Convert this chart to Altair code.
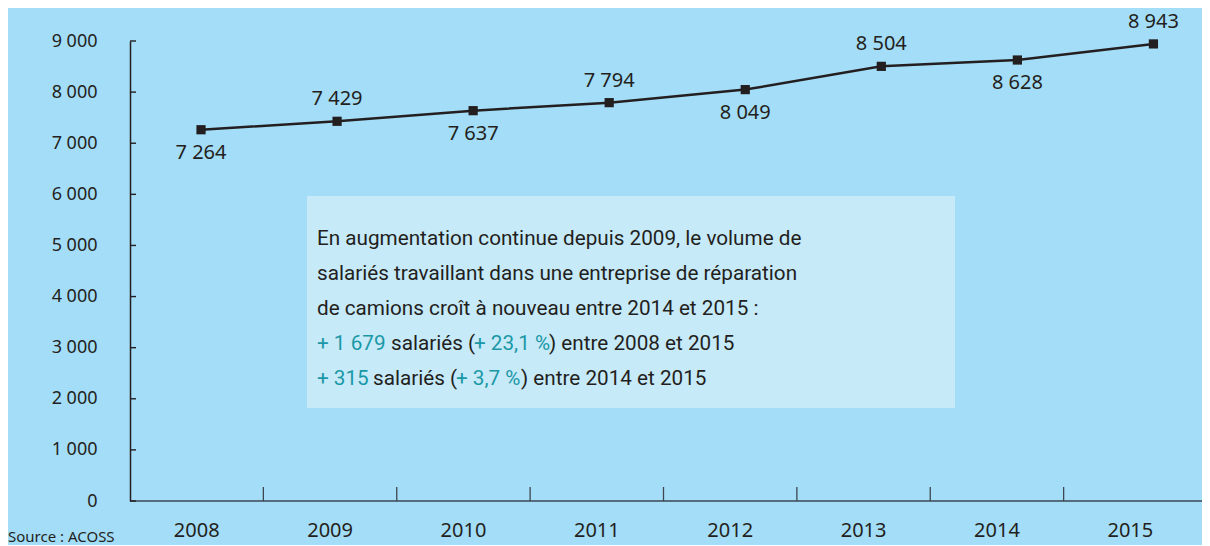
import altair as alt
import pandas as pd

# ---- data ----
years = [2008, 2009, 2010, 2011, 2012, 2013, 2014, 2015]
salaries = [7264, 7429, 7637, 7794, 8049, 8504, 8628, 8943]
label_side = ["below", "above", "below", "above", "below", "above", "below", "above"]
y_ticks = [0, 1000, 2000, 3000, 4000, 5000, 6000, 7000, 8000, 9000]
x_boundary_years = [2009, 2010, 2011, 2012, 2013, 2014, 2015]

box_lines = [
    "En augmentation continue depuis 2009, le volume de",
    "salariés travaillant dans une entreprise de réparation",
    "de camions croît à nouveau entre 2014 et 2015 :",
]
line4_segments = ["+ 1 679", "salariés (", "+ 23,1 %", ") entre 2008 et 2015"]
line5_segments = ["+ 315", "salariés (", "+ 3,7 %", ") entre 2014 et 2015"]
segment_teal = [True, False, True, False]
line4_starts = [187, 261, 344, 419]
line5_starts = [187, 243, 326, 391]
source_text = "Source : ACOSS"

# ---- style ----
W, H = 1072, 460
BG = "#a4ddf7"
BOX = "#c7eaf9"
INK = "#231f20"
TEAL = "#1a98a6"
FONT = "Noto Sans"
BOX_FONT = "Roboto"

def fmt(v):
    return f"{v:,}".replace(",", " ")

df = pd.DataFrame({
    "year": years,
    "value": salaries,
    "label": [fmt(v) for v in salaries],
    "side": label_side,
})

xs = alt.Scale(domain=[2007.478, 2015.357], nice=False, zero=False)
ys = alt.Scale(domain=[0, 9000], nice=False)
y_axis = alt.Axis(
    values=y_ticks,
    labelExpr="replace(format(datum.value, ',d'), ',', ' ')",
    tickSize=0, labelPadding=33, labelFontSize=18, labelFont=FONT,
    labelColor=INK, domainColor=INK, domainWidth=1.5, grid=False, title=None,
)

def Y(field):
    return alt.Y(field, scale=ys, axis=y_axis)

base = alt.Chart(df).encode(x=alt.X("year:Q", scale=xs, axis=None), y=Y("value:Q"))
line = base.mark_line(color=INK, strokeWidth=2.5)
pts = base.mark_point(shape="square", filled=True, size=85, color=INK, opacity=1)
lab_below = base.transform_filter(alt.datum.side == "below").mark_text(
    dy=23, fontSize=20, font=FONT, color=INK).encode(text="label:N")
lab_above = base.transform_filter(alt.datum.side == "above").mark_text(
    dy=-22, fontSize=20, font=FONT, color=INK).encode(text="label:N")

# x axis (band scale for labels and boundary ticks)
band_scale = alt.Scale(domain=years, range=[0, 1067], paddingInner=0, paddingOuter=0)
x_ticks = alt.Chart(pd.DataFrame({"year": x_boundary_years})).mark_rule(
    color="#3d4650", strokeWidth=1.3).encode(
    x=alt.X("year:O", scale=band_scale, bandPosition=0,
            axis=alt.Axis(domain=False, ticks=False, labelPadding=19, labelFontSize=20,
                          labelFont=FONT, labelColor=INK, labelAngle=0, title=None)),
    y=alt.value(H - 14), y2=alt.value(H),
)

baseline = alt.Chart(pd.DataFrame({"v": [0]})).mark_rule(
    color="#3d4650", strokeWidth=1.6).encode(
    y=Y("v:Q"), x=alt.value(0), x2=alt.value(W))

y_tick_rules = alt.Chart(pd.DataFrame({"tick": y_ticks})).mark_rule(
    color=INK, strokeWidth=1.4).encode(
    y=Y("tick:Q"), x=alt.value(0), x2=alt.value(6))

# annotation box
box = alt.Chart(pd.DataFrame({"a": [0]})).mark_rect(color=BOX).encode(
    x=alt.value(177), x2=alt.value(825), y=alt.value(155), y2=alt.value(367))

rows = []
for i, t in enumerate(box_lines):
    rows.append({"t": t, "px": 187, "py": 204 + 35 * i, "c": INK})
for segs, starts, py in [(line4_segments, line4_starts, 309), (line5_segments, line5_starts, 344)]:
    for s, x0, teal in zip(segs, starts, segment_teal):
        rows.append({"t": s, "px": x0, "py": py, "c": TEAL if teal else INK})
box_text = alt.Chart(pd.DataFrame(rows)).mark_text(
    align="left", baseline="alphabetic", fontSize=20.7, font=BOX_FONT).encode(
    x=alt.X("px:Q", scale=None), y=alt.Y("py:Q", scale=None),
    color=alt.Color("c:N", scale=None), text="t:N")

source = alt.Chart(pd.DataFrame({"s": [source_text]})).mark_text(
    align="left", baseline="middle", fontSize=15, font=FONT, color=INK).encode(
    x=alt.value(-122), y=alt.value(496), text="s:N")

chart = alt.layer(
    box, box_text, baseline, y_tick_rules, x_ticks, line, pts, lab_below, lab_above, source
).resolve_scale(x="independent").properties(
    width=W, height=H,
    autosize=alt.AutoSizeParams(type="none"),
    padding={"left": 122, "top": 33, "right": 0, "bottom": 44},
    background=BG,
).configure_view(stroke=None)

chart.save("out.html", embed_options={"renderer": "svg", "actions": False})
